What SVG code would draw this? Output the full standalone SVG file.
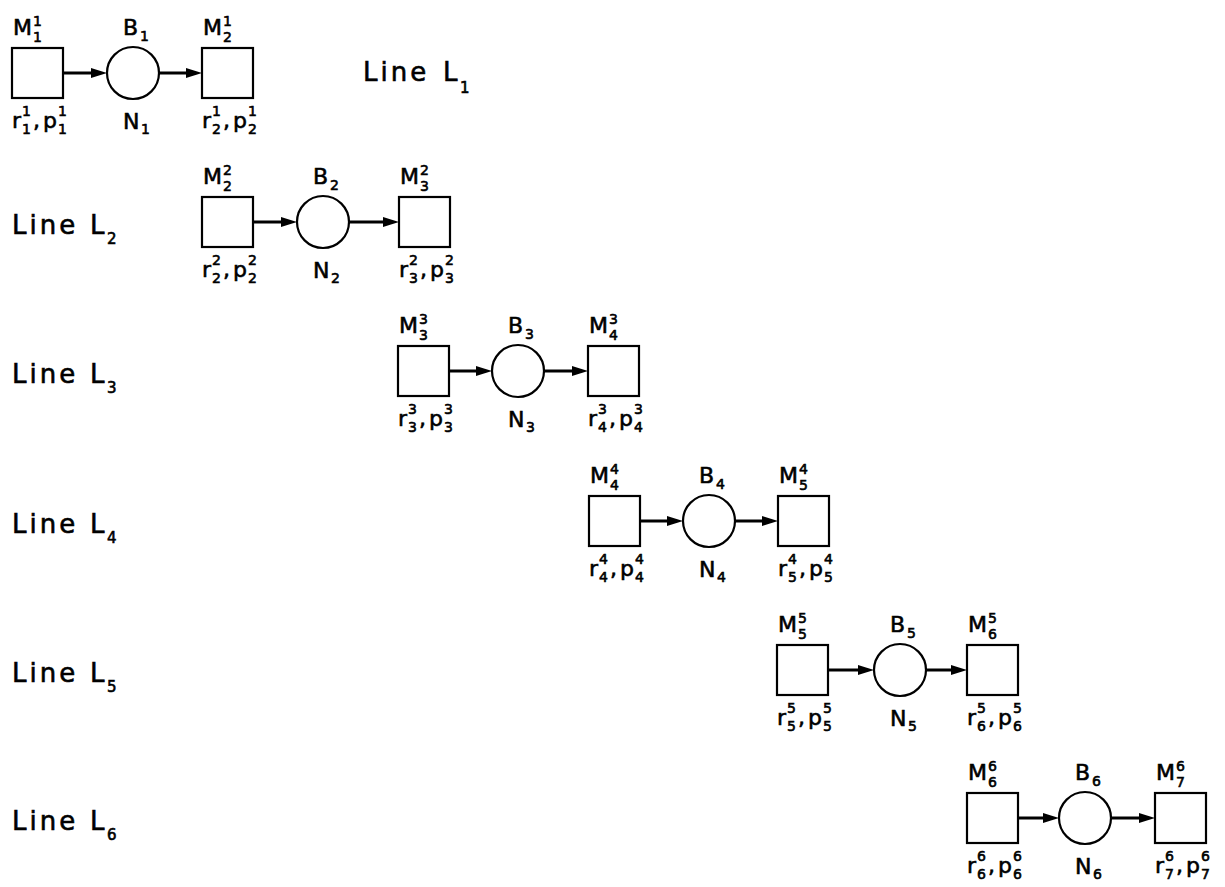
<svg xmlns="http://www.w3.org/2000/svg" width="1225" height="887" viewBox="0 0 1225 887">
  <style>
    .box { fill: #fff; stroke: #000; stroke-width: 2.2; }
    .buf { fill: #fff; stroke: #000; stroke-width: 2.2; }
    .flow { stroke: #000; stroke-width: 3; fill: none; marker-end: url(#ah); }
    text { font-family: "DejaVu Sans", "Liberation Sans", sans-serif; font-size: 22px; fill: #000; stroke: #000; stroke-width: 0.6; }
    .s { font-size: 14px; }
    .ln { font-size: 26px; }
    .lw { letter-spacing: 3px; }
    .lsub { font-size: 15px; }
  </style>
  <defs>
    <marker id="ah" markerUnits="userSpaceOnUse" markerWidth="17" markerHeight="11" refX="8" refY="5.5" orient="auto">
      <path d="M0,0.5 L16,5.5 L0,10.5 z" fill="#000"/>
    </marker>
  </defs>

  <rect width="1225" height="887" fill="#fff"/>

  <!-- flow connectors: machine -> buffer -> machine -->
  <g id="connectors">
    <line class="flow" x1="63" y1="73" x2="99" y2="73"/>
    <line class="flow" x1="159" y1="73" x2="194" y2="73"/>
    <line class="flow" x1="253" y1="222" x2="289" y2="222"/>
    <line class="flow" x1="349" y1="222" x2="391" y2="222"/>
    <line class="flow" x1="449" y1="371" x2="484" y2="371"/>
    <line class="flow" x1="544" y1="371" x2="580" y2="371"/>
    <line class="flow" x1="640" y1="521" x2="675" y2="521"/>
    <line class="flow" x1="735" y1="521" x2="770" y2="521"/>
    <line class="flow" x1="828" y1="670" x2="866" y2="670"/>
    <line class="flow" x1="926" y1="670" x2="959" y2="670"/>
    <line class="flow" x1="1018" y1="818" x2="1051" y2="818"/>
    <line class="flow" x1="1111" y1="818" x2="1147" y2="818"/>
  </g>

  <!-- Line L1 -->
  <g id="line1">
    <text><tspan class="ln lw" x="363" y="81">Line</tspan><tspan class="ln" x="443" y="81">L</tspan><tspan class="lsub" x="460" y="93">1</tspan></text>
    <g id="M1_1">
      <rect class="box" x="12" y="48" width="51" height="50"/>
      <text><tspan x="13" y="35">M</tspan><tspan class="s" x="33" y="26">1</tspan><tspan class="s" x="33" y="42">1</tspan></text>
      <text><tspan x="12" y="128">r</tspan><tspan class="s" x="22" y="116">1</tspan><tspan class="s" x="22" y="134">1</tspan><tspan x="33" y="128">,</tspan><tspan x="43" y="128">p</tspan><tspan class="s" x="58" y="116">1</tspan><tspan class="s" x="58" y="134">1</tspan></text>
    </g>
    <g id="B1">
      <circle class="buf" cx="133" cy="73" r="26"/>
      <text><tspan x="123" y="35">B</tspan><tspan class="s" x="140" y="41">1</tspan></text>
      <text><tspan x="123" y="129">N</tspan><tspan class="s" x="141" y="134">1</tspan></text>
    </g>
    <g id="M2_1">
      <rect class="box" x="202" y="48" width="51" height="50"/>
      <text><tspan x="203" y="35">M</tspan><tspan class="s" x="223" y="26">1</tspan><tspan class="s" x="223" y="42">2</tspan></text>
      <text><tspan x="202" y="128">r</tspan><tspan class="s" x="212" y="116">1</tspan><tspan class="s" x="212" y="134">2</tspan><tspan x="223" y="128">,</tspan><tspan x="233" y="128">p</tspan><tspan class="s" x="248" y="116">1</tspan><tspan class="s" x="248" y="134">2</tspan></text>
    </g>
  </g>

  <!-- Line L2 -->
  <g id="line2">
    <text><tspan class="ln lw" x="12" y="234">Line</tspan><tspan class="ln" x="90" y="234">L</tspan><tspan class="lsub" x="107" y="244">2</tspan></text>
    <g id="M2_2">
      <rect class="box" x="202" y="197" width="51" height="50"/>
      <text><tspan x="203" y="184">M</tspan><tspan class="s" x="223" y="175">2</tspan><tspan class="s" x="223" y="191">2</tspan></text>
      <text><tspan x="202" y="277">r</tspan><tspan class="s" x="212" y="265">2</tspan><tspan class="s" x="212" y="283">2</tspan><tspan x="223" y="277">,</tspan><tspan x="233" y="277">p</tspan><tspan class="s" x="248" y="265">2</tspan><tspan class="s" x="248" y="283">2</tspan></text>
    </g>
    <g id="B2">
      <circle class="buf" cx="323" cy="222" r="26"/>
      <text><tspan x="313" y="184">B</tspan><tspan class="s" x="330" y="190">2</tspan></text>
      <text><tspan x="313" y="278">N</tspan><tspan class="s" x="331" y="283">2</tspan></text>
    </g>
    <g id="M3_2">
      <rect class="box" x="399" y="197" width="51" height="50"/>
      <text><tspan x="400" y="184">M</tspan><tspan class="s" x="420" y="175">2</tspan><tspan class="s" x="420" y="191">3</tspan></text>
      <text><tspan x="399" y="277">r</tspan><tspan class="s" x="409" y="265">2</tspan><tspan class="s" x="409" y="283">3</tspan><tspan x="420" y="277">,</tspan><tspan x="430" y="277">p</tspan><tspan class="s" x="445" y="265">2</tspan><tspan class="s" x="445" y="283">3</tspan></text>
    </g>
  </g>

  <!-- Line L3 -->
  <g id="line3">
    <text><tspan class="ln lw" x="12" y="383">Line</tspan><tspan class="ln" x="90" y="383">L</tspan><tspan class="lsub" x="107" y="393">3</tspan></text>
    <g id="M3_3">
      <rect class="box" x="398" y="346" width="51" height="50"/>
      <text><tspan x="399" y="333">M</tspan><tspan class="s" x="419" y="324">3</tspan><tspan class="s" x="419" y="340">3</tspan></text>
      <text><tspan x="398" y="426">r</tspan><tspan class="s" x="408" y="414">3</tspan><tspan class="s" x="408" y="432">3</tspan><tspan x="419" y="426">,</tspan><tspan x="429" y="426">p</tspan><tspan class="s" x="444" y="414">3</tspan><tspan class="s" x="444" y="432">3</tspan></text>
    </g>
    <g id="B3">
      <circle class="buf" cx="518" cy="371" r="26"/>
      <text><tspan x="508" y="333">B</tspan><tspan class="s" x="525" y="339">3</tspan></text>
      <text><tspan x="508" y="427">N</tspan><tspan class="s" x="526" y="432">3</tspan></text>
    </g>
    <g id="M4_3">
      <rect class="box" x="588" y="346" width="51" height="50"/>
      <text><tspan x="589" y="333">M</tspan><tspan class="s" x="609" y="324">3</tspan><tspan class="s" x="609" y="340">4</tspan></text>
      <text><tspan x="588" y="426">r</tspan><tspan class="s" x="598" y="414">3</tspan><tspan class="s" x="598" y="432">4</tspan><tspan x="609" y="426">,</tspan><tspan x="619" y="426">p</tspan><tspan class="s" x="634" y="414">3</tspan><tspan class="s" x="634" y="432">4</tspan></text>
    </g>
  </g>

  <!-- Line L4 -->
  <g id="line4">
    <text><tspan class="ln lw" x="12" y="533">Line</tspan><tspan class="ln" x="90" y="533">L</tspan><tspan class="lsub" x="107" y="543">4</tspan></text>
    <g id="M4_4">
      <rect class="box" x="589" y="496" width="51" height="50"/>
      <text><tspan x="590" y="483">M</tspan><tspan class="s" x="610" y="474">4</tspan><tspan class="s" x="610" y="490">4</tspan></text>
      <text><tspan x="589" y="576">r</tspan><tspan class="s" x="599" y="564">4</tspan><tspan class="s" x="599" y="582">4</tspan><tspan x="610" y="576">,</tspan><tspan x="620" y="576">p</tspan><tspan class="s" x="635" y="564">4</tspan><tspan class="s" x="635" y="582">4</tspan></text>
    </g>
    <g id="B4">
      <circle class="buf" cx="709" cy="521" r="26"/>
      <text><tspan x="699" y="483">B</tspan><tspan class="s" x="716" y="489">4</tspan></text>
      <text><tspan x="699" y="577">N</tspan><tspan class="s" x="717" y="582">4</tspan></text>
    </g>
    <g id="M5_4">
      <rect class="box" x="778" y="496" width="51" height="50"/>
      <text><tspan x="779" y="483">M</tspan><tspan class="s" x="799" y="474">4</tspan><tspan class="s" x="799" y="490">5</tspan></text>
      <text><tspan x="778" y="576">r</tspan><tspan class="s" x="788" y="564">4</tspan><tspan class="s" x="788" y="582">5</tspan><tspan x="799" y="576">,</tspan><tspan x="809" y="576">p</tspan><tspan class="s" x="824" y="564">4</tspan><tspan class="s" x="824" y="582">5</tspan></text>
    </g>
  </g>

  <!-- Line L5 -->
  <g id="line5">
    <text><tspan class="ln lw" x="12" y="682">Line</tspan><tspan class="ln" x="90" y="682">L</tspan><tspan class="lsub" x="107" y="692">5</tspan></text>
    <g id="M5_5">
      <rect class="box" x="777" y="645" width="51" height="50"/>
      <text><tspan x="778" y="632">M</tspan><tspan class="s" x="798" y="623">5</tspan><tspan class="s" x="798" y="639">5</tspan></text>
      <text><tspan x="777" y="725">r</tspan><tspan class="s" x="787" y="713">5</tspan><tspan class="s" x="787" y="731">5</tspan><tspan x="798" y="725">,</tspan><tspan x="808" y="725">p</tspan><tspan class="s" x="823" y="713">5</tspan><tspan class="s" x="823" y="731">5</tspan></text>
    </g>
    <g id="B5">
      <circle class="buf" cx="900" cy="670" r="26"/>
      <text><tspan x="890" y="632">B</tspan><tspan class="s" x="907" y="638">5</tspan></text>
      <text><tspan x="890" y="726">N</tspan><tspan class="s" x="908" y="731">5</tspan></text>
    </g>
    <g id="M6_5">
      <rect class="box" x="967" y="645" width="51" height="50"/>
      <text><tspan x="968" y="632">M</tspan><tspan class="s" x="988" y="623">5</tspan><tspan class="s" x="988" y="639">6</tspan></text>
      <text><tspan x="967" y="725">r</tspan><tspan class="s" x="977" y="713">5</tspan><tspan class="s" x="977" y="731">6</tspan><tspan x="988" y="725">,</tspan><tspan x="998" y="725">p</tspan><tspan class="s" x="1013" y="713">5</tspan><tspan class="s" x="1013" y="731">6</tspan></text>
    </g>
  </g>

  <!-- Line L6 -->
  <g id="line6">
    <text><tspan class="ln lw" x="12" y="830">Line</tspan><tspan class="ln" x="90" y="830">L</tspan><tspan class="lsub" x="107" y="840">6</tspan></text>
    <g id="M6_6">
      <rect class="box" x="967" y="793" width="51" height="50"/>
      <text><tspan x="968" y="780">M</tspan><tspan class="s" x="988" y="771">6</tspan><tspan class="s" x="988" y="787">6</tspan></text>
      <text><tspan x="967" y="873">r</tspan><tspan class="s" x="977" y="861">6</tspan><tspan class="s" x="977" y="879">6</tspan><tspan x="988" y="873">,</tspan><tspan x="998" y="873">p</tspan><tspan class="s" x="1013" y="861">6</tspan><tspan class="s" x="1013" y="879">6</tspan></text>
    </g>
    <g id="B6">
      <circle class="buf" cx="1085" cy="818" r="26"/>
      <text><tspan x="1075" y="780">B</tspan><tspan class="s" x="1092" y="786">6</tspan></text>
      <text><tspan x="1075" y="874">N</tspan><tspan class="s" x="1093" y="879">6</tspan></text>
    </g>
    <g id="M7_6">
      <rect class="box" x="1155" y="793" width="51" height="50"/>
      <text><tspan x="1156" y="780">M</tspan><tspan class="s" x="1176" y="771">6</tspan><tspan class="s" x="1176" y="787">7</tspan></text>
      <text><tspan x="1155" y="873">r</tspan><tspan class="s" x="1165" y="861">6</tspan><tspan class="s" x="1165" y="879">7</tspan><tspan x="1176" y="873">,</tspan><tspan x="1186" y="873">p</tspan><tspan class="s" x="1201" y="861">6</tspan><tspan class="s" x="1201" y="879">7</tspan></text>
    </g>
  </g>
</svg>
